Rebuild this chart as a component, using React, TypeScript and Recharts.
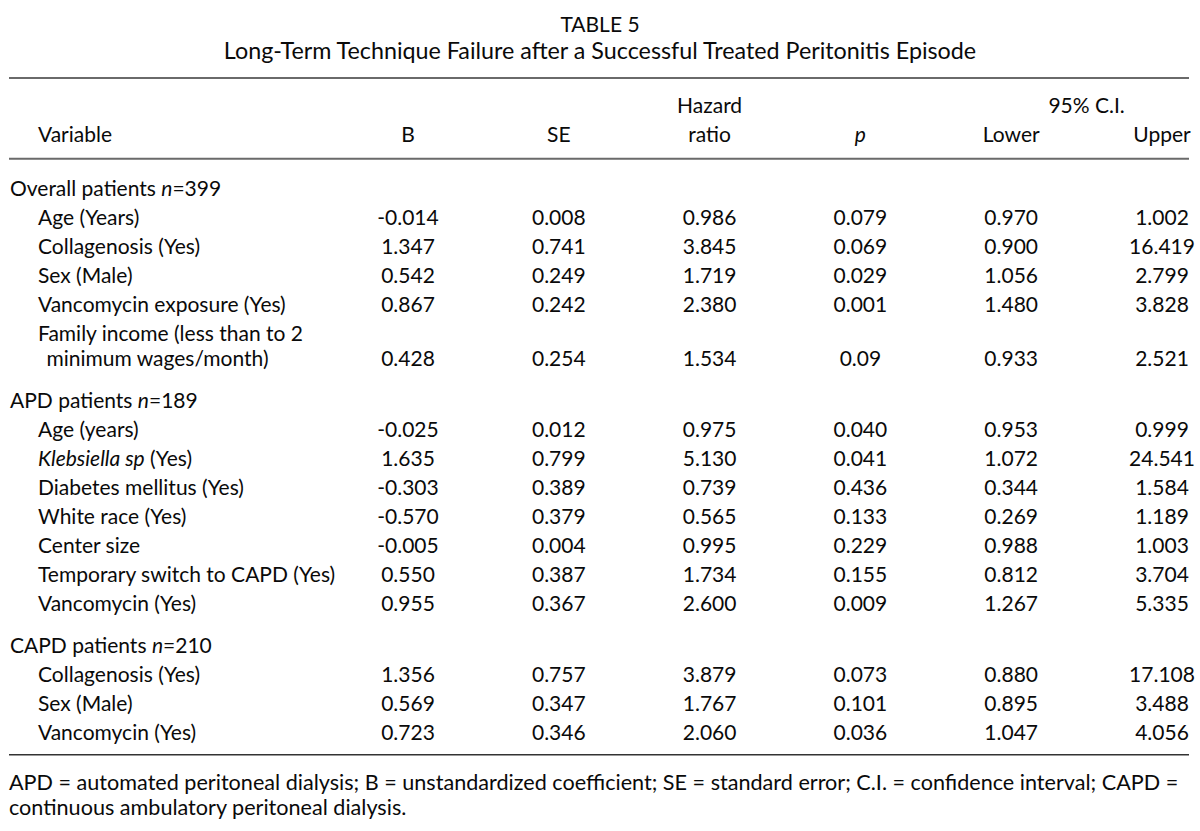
import React from 'react';
import { ComposedChart, Scatter, XAxis, YAxis, ReferenceLine } from 'recharts';

const TITLE = 'TABLE 5';
const SUBTITLE = 'Long-Term Technique Failure after a Successful Treated Peritonitis Episode';

// *text* = italic
const groupLabels = ['Overall patients *n*=399', 'APD patients *n*=189', 'CAPD patients *n*=210'];
const overallVariables = [
  'Age (Years)',
  'Collagenosis (Yes)',
  'Sex (Male)',
  'Vancomycin exposure (Yes)',
  'Family income (less than to 2\nminimum wages/month)',
];
const apdVariables = [
  'Age (years)',
  '*Klebsiella sp* (Yes)',
  'Diabetes mellitus (Yes)',
  'White race (Yes)',
  'Center size',
  'Temporary switch to CAPD (Yes)',
  'Vancomycin (Yes)',
];
const capdVariables = ['Collagenosis (Yes)', 'Sex (Male)', 'Vancomycin (Yes)'];

const columnHeaders = ['B', 'SE', 'Hazard\nratio', '*p*', 'Lower', 'Upper'];
const ciHeader = '95% C.I.';
const variableHeader = 'Variable';

const bValues = ['-0.014', '1.347', '0.542', '0.867', '0.428', '-0.025', '1.635', '-0.303', '-0.570', '-0.005', '0.550', '0.955', '1.356', '0.569', '0.723'];
const seValues = ['0.008', '0.741', '0.249', '0.242', '0.254', '0.012', '0.799', '0.389', '0.379', '0.004', '0.387', '0.367', '0.757', '0.347', '0.346'];
const hrValues = ['0.986', '3.845', '1.719', '2.380', '1.534', '0.975', '5.130', '0.739', '0.565', '0.995', '1.734', '2.600', '3.879', '1.767', '2.060'];
const pValues = ['0.079', '0.069', '0.029', '0.001', '0.09', '0.040', '0.041', '0.436', '0.133', '0.229', '0.155', '0.009', '0.073', '0.101', '0.036'];
const lowerValues = ['0.970', '0.900', '1.056', '1.480', '0.933', '0.953', '1.072', '0.344', '0.269', '0.988', '0.812', '1.267', '0.880', '0.895', '1.047'];
const upperValues = ['1.002', '16.419', '2.799', '3.828', '2.521', '0.999', '24.541', '1.584', '1.189', '1.003', '3.704', '5.335', '17.108', '3.488', '4.056'];

const FOOTNOTE = [
  'APD = automated peritoneal dialysis; B = unstandardized coefficient; SE = standard error; C.I. = confidence interval; CAPD =',
  'continuous ambulatory peritoneal dialysis.',
];

// layout, in "line" units (one table row = 1)
const CHART_W = 1180;
const CHART_H = 831;
const LINE_PX = 29;
const FIRST_ROW_PX = 187;
const WRAP_STEP = 0.86;
const GROUP_GAP = 1.45;
const HEADER_TOP_LINE = -2.86;
const HEADER_LINE = -1.86;
const TOP_RULE = -3.76;
const MID_RULE = -0.97;

const FONT = 'Lato, "Open Sans", sans-serif';
const FONT_SIZE = 21;
const INK = '#0a0a0a';

type Cell = { x: number; y: number; text: string };

const groups = [overallVariables, apdVariables, capdVariables];
const valueColumns = [bValues, seValues, hrValues, pValues, lowerValues, upperValues];

const labelCells: Cell[] = [];
const valueLines: number[] = [];
let line = 0;
groups.forEach((vars, gi) => {
  labelCells.push({ x: 0, y: line, text: groupLabels[gi] });
  line += 1;
  vars.forEach((label) => {
    const parts = label.split('\n');
    parts.forEach((p, pi) => labelCells.push({ x: pi === 0 ? 1 : 1.3, y: line + pi * WRAP_STEP, text: p }));
    const vl = line + (parts.length - 1) * WRAP_STEP;
    valueLines.push(vl);
    line = vl + 1;
  });
  line += GROUP_GAP - 1;
});
const BOTTOM_RULE = valueLines[valueLines.length - 1] + 0.82;

labelCells.push({ x: 1, y: HEADER_LINE, text: variableHeader });

const headerCells: Cell[] = [];
columnHeaders.forEach((h, i) => {
  const parts = h.split('\n');
  parts.forEach((p, pi) => {
    headerCells.push({ x: i, y: parts.length === 2 && pi === 0 ? HEADER_TOP_LINE : HEADER_LINE, text: p });
  });
});
headerCells.push({ x: 4.5, y: HEADER_TOP_LINE, text: ciHeader });

const columnCells: Cell[][] = valueColumns.map((vals, ci) =>
  vals.map((v, ri) => ({ x: ci, y: valueLines[ri], text: v }))
);

const rich = (text: string) =>
  text.split('*').map((part, i) =>
    i % 2 === 1 ? (
      <tspan key={i} fontStyle="italic">{part}</tspan>
    ) : (
      <tspan key={i}>{part}</tspan>
    )
  );

const makeShape = (anchor: 'start' | 'middle') => (props: any) => {
  const { cx, cy, payload } = props;
  return (
    <text x={cx} y={cy} textAnchor={anchor} dominantBaseline="central" fontFamily={FONT} fontSize={FONT_SIZE} fill={INK}>
      {rich(payload.text)}
    </text>
  );
};
const LeftText = makeShape('start');
const CenterText = makeShape('middle');

export default function App() {
  const yDomain = [-FIRST_ROW_PX / LINE_PX, (CHART_H - FIRST_ROW_PX) / LINE_PX];
  return (
    <div style={{ position: 'absolute', left: 0, top: 0, width: 1200, height: 831, background: '#fff', fontFamily: FONT, color: INK }}>
      <style>{'.recharts-surface { overflow: visible; }'}</style>
      <div style={{ position: 'absolute', top: 11, width: 1200, textAlign: 'center', fontSize: 21, lineHeight: '26px' }}>{TITLE}</div>
      <div style={{ position: 'absolute', top: 37, width: 1200, textAlign: 'center', fontSize: 23.3, lineHeight: '26px' }}>{SUBTITLE}</div>
      <div style={{ position: 'absolute', left: 9, top: 0 }}>
        <ComposedChart width={CHART_W} height={CHART_H} margin={{ top: 0, right: 0, bottom: 0, left: 0 }}>
          <XAxis xAxisId={0} type="number" dataKey="x" domain={[0, 5]} tickCount={6} padding={{ left: 399, right: 27 }} hide />
          <XAxis xAxisId="label" type="number" dataKey="x" domain={[0, 2]} tickCount={3} padding={{ left: 1, right: CHART_W - 57 }} hide />
          <YAxis type="number" dataKey="y" domain={yDomain} reversed allowDataOverflow hide />
          <ReferenceLine y={TOP_RULE} stroke="#6a6a6a" strokeWidth={2} />
          <ReferenceLine y={MID_RULE} stroke="#6a6a6a" strokeWidth={2} />
          <ReferenceLine y={BOTTOM_RULE} stroke="#333" strokeWidth={1.5} />
          <Scatter xAxisId="label" data={labelCells} shape={LeftText} isAnimationActive={false} legendType="none" />
          <Scatter data={headerCells} shape={CenterText} isAnimationActive={false} legendType="none" />
          {columnCells.map((cells, i) => (
            <Scatter key={i} data={cells} shape={CenterText} isAnimationActive={false} legendType="none" />
          ))}
        </ComposedChart>
      </div>
      <div style={{ position: 'absolute', left: 9, top: 770, fontSize: 21.6, lineHeight: '25px', whiteSpace: 'nowrap' }}>
        {FOOTNOTE.map((t, i) => (
          <div key={i}>{t}</div>
        ))}
      </div>
    </div>
  );
}
